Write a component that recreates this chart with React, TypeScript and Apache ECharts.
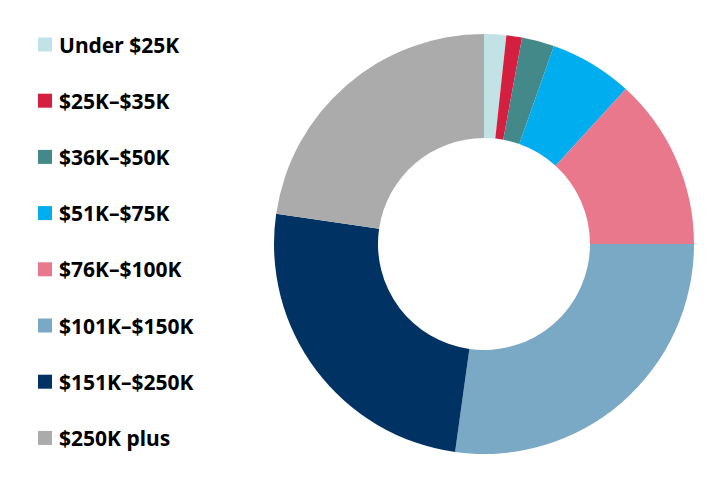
import React, { useEffect, useRef } from "react";
import * as echarts from "echarts";

const categories = [
  "Under $25K",
  "$25K–$35K",
  "$36K–$50K",
  "$51K–$75K",
  "$76K–$100K",
  "$101K–$150K",
  "$151K–$250K",
  "$250K plus",
];
const values = [1.7, 1.2, 2.5, 6.4, 13.2, 27.2, 25.1, 22.7];
const colors = [
  "#C1E3E5",
  "#D51F40",
  "#43898A",
  "#00AEEF",
  "#E9788C",
  "#79A9C4",
  "#003263",
  "#ABABAB",
];

export default function App() {
  const ref = useRef<HTMLDivElement>(null);
  useEffect(() => {
    if (!ref.current) return;
    const chart = echarts.init(ref.current, null, { renderer: "svg" });
    chart.setOption({
      animation: false,
      backgroundColor: "#ffffff",
      color: colors,
      legend: {
        orient: "vertical",
        left: 38,
        top: 34,
        height: 440,
        padding: 0,
        itemWidth: 14,
        itemHeight: 14,
        itemGap: 35.2,
        icon: "rect",
        data: categories,
        textStyle: {
          fontFamily: "Noto Sans",
          fontWeight: "bold",
          fontSize: 21,
          color: "#000000",
          lineHeight: 20,
          padding: [0, 0, 0, 2],
        },
      },
      series: [
        {
          type: "pie",
          center: [484, 244],
          radius: [106, 210],
          startAngle: 90,
          clockwise: true,
          label: { show: false },
          labelLine: { show: false },
          emphasis: { disabled: true },
          data: categories.map((c, i) => ({ name: c, value: values[i] })),
        },
      ],
    });
    return () => chart.dispose();
  }, []);
  return (
    <div
      ref={ref}
      style={{ width: 721, height: 482, position: "absolute", left: 0, top: 0 }}
    />
  );
}
